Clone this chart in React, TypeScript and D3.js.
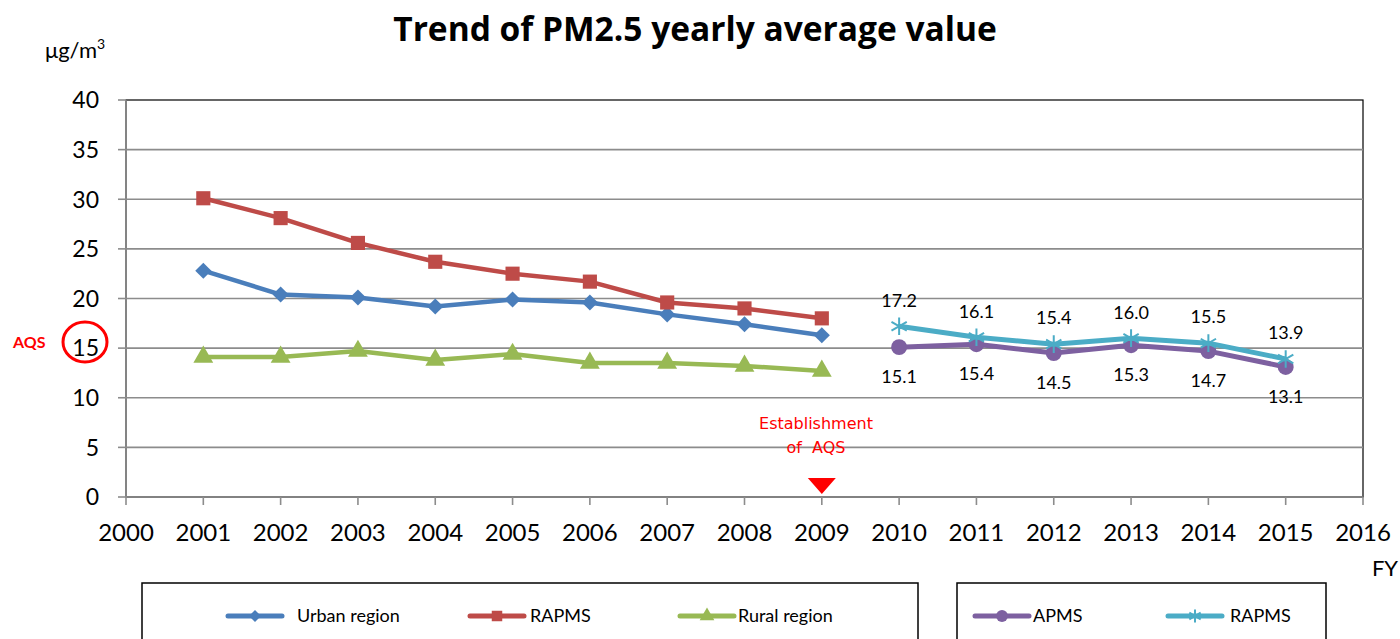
import React from "react";
import * as d3 from "d3";

// FY axis
const yearTicks = d3.range(2000, 2017);
const valueTicks = [0, 5, 10, 15, 20, 25, 30, 35, 40];

// first period (2001-2009)
const years1 = [2001, 2002, 2003, 2004, 2005, 2006, 2007, 2008, 2009];
const urban = [22.8, 20.4, 20.1, 19.2, 19.9, 19.6, 18.4, 17.4, 16.3];
const rapmsOld = [30.1, 28.1, 25.6, 23.7, 22.5, 21.7, 19.6, 19.0, 18.0];
const rural = [14.1, 14.1, 14.7, 13.8, 14.4, 13.5, 13.5, 13.2, 12.7];

// second period (2010-2015), labelled
const years2 = [2010, 2011, 2012, 2013, 2014, 2015];
const apms = [15.1, 15.4, 14.5, 15.3, 14.7, 13.1];
const rapmsNew = [17.2, 16.1, 15.4, 16.0, 15.5, 13.9];

const FONT = "Lato, 'Open Sans', sans-serif";
const W = 1400;
const H = 639;
const left = 126, right = 1363, top = 100, bottom = 497;

const x = d3.scaleLinear().domain([2000, 2016]).range([left, right]);
const y = d3.scaleLinear().domain([0, 40]).range([bottom, top]);

const lineGen = d3
  .line<[number, number]>()
  .x((d) => x(d[0]))
  .y((d) => y(d[1]));

const zip = (xs: number[], vs: number[]) => xs.map((v, i) => [v, vs[i]] as [number, number]);

const series = [
  { name: "Urban region", years: years1, values: urban, color: "#4a7ebb", symbol: d3.symbolSquare, size: 130, rotate: 45, width: 4.5 },
  { name: "RAPMS", years: years1, values: rapmsOld, color: "#be4b48", symbol: d3.symbolSquare, size: 200, width: 4.5 },
  { name: "Rural region", years: years1, values: rural, color: "#98b954", symbol: d3.symbolTriangle, size: 170, width: 4.5 },
  { name: "APMS", years: years2, values: apms, color: "#7d60a0", symbol: d3.symbolCircle, size: 200, width: 5 },
  { name: "RAPMS", years: years2, values: rapmsNew, color: "#4bacc6", symbol: d3.symbolAsterisk, size: 220, width: 5, stroke: true },
];

const Marker = ({ s, cx, cy, scale = 1 }: any) => {
  const p = d3.symbol().type(s.symbol).size(s.size * scale)()!;
  const tr = `translate(${cx},${cy}) rotate(${s.rotate || 0})`;
  return s.stroke ? (
    <path d={p} transform={tr} fill="none" stroke={s.color} strokeWidth={2} />
  ) : (
    <path d={p} transform={tr} fill={s.color} />
  );
};

export default function App() {
  const legend1 = [
    { s: series[0], lx: 228, tx: 297 },
    { s: series[1], lx: 470, tx: 530 },
    { s: series[2], lx: 680, tx: 738 },
  ];
  const legend2 = [
    { s: series[3], lx: 975, tx: 1033 },
    { s: series[4], lx: 1168, tx: 1230 },
  ];
  const tri = `M${x(2009) - 14},478 L${x(2009) + 14},478 L${x(2009)},494 Z`;

  return (
    <svg width={W} height={H} style={{ position: "absolute", left: 0, top: 0, background: "#fff" }} fontFamily={FONT}>
      <text x={695} y={41} textAnchor="middle" fontSize={33.5} fontWeight="bold" fill="#000" fontFamily="'Open Sans', sans-serif">
        Trend of PM2.5 yearly average value
      </text>
      <text x={45} y={58} fontSize={22} fill="#000">
        μg/m<tspan dy={-9} fontSize={14}>3</tspan>
      </text>

      {/* plot frame and grid */}
      <rect x={left} y={top} width={right - left} height={bottom - top} fill="none" stroke="#000" strokeWidth={1.2} />
      {valueTicks.slice(1, -1).map((v) => (
        <line key={v} x1={left} x2={right} y1={y(v)} y2={y(v)} stroke="#8c8c8c" strokeWidth={1.6} />
      ))}
      <line x1={left} x2={left} y1={top} y2={bottom} stroke="#8c8c8c" strokeWidth={1.6} />
      <line x1={left} x2={right} y1={bottom} y2={bottom} stroke="#8c8c8c" strokeWidth={1.6} />
      {valueTicks.map((v) => (
        <g key={v}>
          <line x1={left - 8} x2={left} y1={y(v)} y2={y(v)} stroke="#8c8c8c" strokeWidth={1.6} />
          <text x={99} y={y(v)} dy="0.36em" textAnchor="end" fontSize={23} fill="#000">
            {v}
          </text>
        </g>
      ))}
      {yearTicks.map((t) => (
        <g key={t}>
          <line x1={x(t)} x2={x(t)} y1={bottom} y2={bottom + 8} stroke="#8c8c8c" strokeWidth={1.6} />
          <text x={x(t)} y={541} textAnchor="middle" fontSize={24} fill="#000">
            {t}
          </text>
        </g>
      ))}
      <text x={1385} y={576} textAnchor="middle" fontSize={22} fill="#000">FY</text>

      {/* AQS marker */}
      <text x={13} y={348} fontSize={16} fontWeight="bold" fill="#ff0000">AQS</text>
      <ellipse cx={85} cy={342} rx={22} ry={20} fill="none" stroke="#ff0000" strokeWidth={3} />
      <text x={816} y={429} textAnchor="middle" fontSize={16} fill="#ff0000" fontFamily="'DejaVu Sans', sans-serif" style={{ whiteSpace: "pre" }}>
        Establishment
      </text>
      <text x={816} y={453} textAnchor="middle" fontSize={16} fill="#ff0000" fontFamily="'DejaVu Sans', sans-serif" style={{ whiteSpace: "pre" }}>
        {"of  AQS"}
      </text>
      <path d={tri} fill="#ff0000" />

      {/* series */}
      {series.map((s, i) => (
        <g key={i}>
          <path d={lineGen(zip(s.years, s.values))!} fill="none" stroke={s.color} strokeWidth={s.width} strokeLinejoin="round" />
          {s.years.map((yr, j) => (
            <Marker key={j} s={s} cx={x(yr)} cy={y(s.values[j])} />
          ))}
        </g>
      ))}

      {/* data labels */}
      {years2.map((yr, j) => (
        <g key={yr} fontSize={18} fill="#000" textAnchor="middle">
          <text x={x(yr)} y={y(rapmsNew[j]) - 26} dy="0.35em">{rapmsNew[j].toFixed(1)}</text>
          <text x={x(yr)} y={y(apms[j]) + 30} dy="0.35em">{apms[j].toFixed(1)}</text>
        </g>
      ))}

      {/* legends */}
      <rect x={142} y={583} width={776} height={80} fill="none" stroke="#000" strokeWidth={1.5} />
      <rect x={957} y={583} width={369} height={80} fill="none" stroke="#000" strokeWidth={1.5} />
      {[...legend1, ...legend2].map((l, i) => (
        <g key={i}>
          <line x1={l.lx} x2={l.lx + 54} y1={616} y2={616} stroke={l.s.color} strokeWidth={5} strokeLinecap="round" />
          <Marker s={l.s} cx={l.lx + 27} cy={616} scale={0.55} />
          <text x={l.tx} y={616} dy="0.35em" fontSize={18} fill="#000">{l.s.name}</text>
        </g>
      ))}
    </svg>
  );
}
